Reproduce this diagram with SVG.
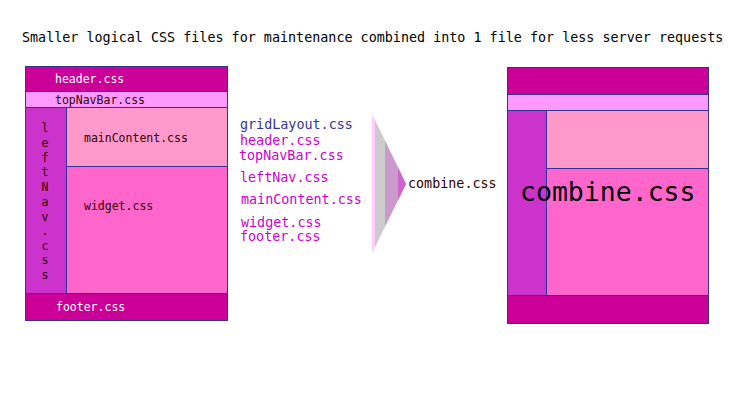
<svg xmlns="http://www.w3.org/2000/svg" width="730" height="400" viewBox="0 0 730 400">
<style>
text{font-family:"DejaVu Sans Mono","Liberation Mono",monospace}
.b{stroke:#333399;stroke-width:1}
.hd{fill:#CC0099}.tn{fill:#FF99FF}.ln{fill:#CC33CC}.mc{fill:#FF99CC}.wg{fill:#FF66CC}
.s{font-size:11.5px;fill:#330000}.w{font-size:11.5px;fill:#fff}
.l{font-size:13.4px;fill:#CC00CC}
</style>
<rect width="730" height="400" fill="#fff"/>
<text x="22" y="42" font-size="13.4" fill="#000">Smaller logical CSS files for maintenance combined into 1 file for less server requests</text>
<g id="left">
<rect class="b hd" x="25.5" y="66.5" width="202" height="25"/>
<rect class="b tn" x="25.5" y="91.5" width="202" height="16"/>
<rect class="b ln" x="25.5" y="107.5" width="41" height="186"/>
<rect class="b mc" x="66.5" y="107.5" width="161" height="59"/>
<rect class="b wg" x="66.5" y="166.5" width="161" height="127"/>
<rect class="b hd" x="25.5" y="293.5" width="202" height="27"/>
<text class="w" x="55" y="83">header.css</text>
<text class="s" x="55" y="104">topNavBar.css</text>
<text class="s" x="84" y="142">mainContent.css</text>
<text class="s" x="84" y="210">widget.css</text>
<text class="w" x="56" y="311">footer.css</text>
<g class="s" text-anchor="middle">
<text x="45" y="132">l</text><text x="45" y="147">e</text><text x="45" y="162">f</text><text x="45" y="176">t</text><text x="45" y="191">N</text><text x="45" y="206">a</text><text x="45" y="221">v</text><text x="45" y="235">.</text><text x="45" y="250">c</text><text x="45" y="264">s</text><text x="45" y="279">s</text>
</g>
</g>
<g id="list">
<text x="240" y="129" font-size="13.4" fill="#333399">gridLayout.css</text>
<text class="l" x="240" y="145">header.css</text>
<text class="l" x="239" y="160">topNavBar.css</text>
<text class="l" x="240" y="182">leftNav.css</text>
<text class="l" x="241" y="204">mainContent.css</text>
<text class="l" x="241" y="227">widget.css</text>
<text class="l" x="240" y="241">footer.css</text>
</g>
<g id="funnel">
<polygon points="372,114 406,184 372,253" fill="#FFCCFF"/>
<polygon points="375,120 406,184 375,247" fill="#CCCCCC"/>
<polygon points="385,141 406,184 385,226" fill="#CC99CC"/>
<polygon points="398,168 406,184 398,200" fill="#CC66CC"/>
<text x="408" y="188" font-size="13.4" fill="#330000">combine.css</text>
</g>
<g id="right">
<rect class="b hd" x="507.5" y="67.5" width="201" height="27"/>
<rect class="b tn" x="507.5" y="94.5" width="201" height="16"/>
<rect class="b ln" x="507.5" y="110.5" width="39" height="185"/>
<rect class="b mc" x="546.5" y="110.5" width="162" height="58"/>
<rect class="b wg" x="546.5" y="168.5" width="162" height="127"/>
<rect class="b hd" x="507.5" y="295.5" width="201" height="28"/>
<text x="520" y="201" font-size="26.5" fill="#000">combine.css</text>
</g>
</svg>
